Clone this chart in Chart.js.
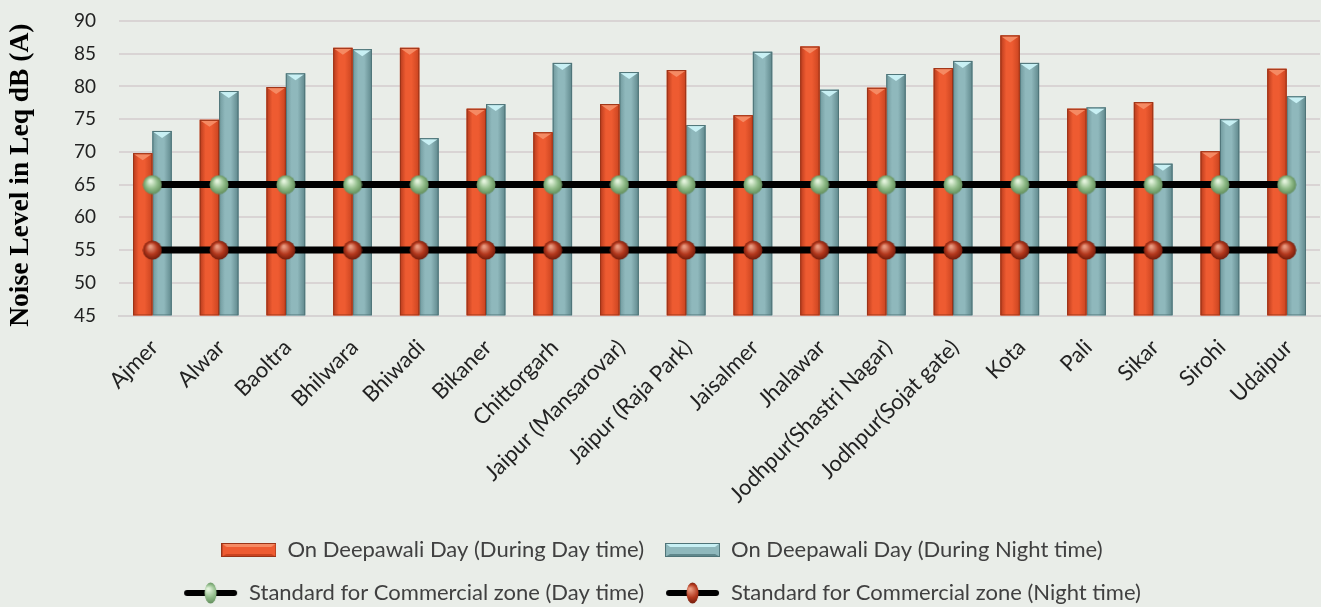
<!DOCTYPE html>
<html>
<head>
<meta charset="utf-8">
<script src="https://cdn.jsdelivr.net/npm/chart.js@4/dist/chart.umd.min.js"></script>
<style>
  html, body { margin: 0; padding: 0; background: #e9ede8; }
  #wrap { width: 1321px; height: 607px; position: relative; }
</style>
</head>
<body>
<div id="wrap"><canvas id="c" width="1321" height="607"></canvas></div>
<script>
// ---- Data ----
const categories = ["Ajmer", "Alwar", "Baoltra", "Bhilwara", "Bhiwadi", "Bikaner", "Chittorgarh",
  "Jaipur (Mansarovar)", "Jaipur (Raja Park)", "Jaisalmer", "Jhalawar", "Jodhpur(Shastri Nagar)",
  "Jodhpur(Sojat gate)", "Kota", "Pali", "Sikar", "Sirohi", "Udaipur"];
const dayValues   = [69.8, 74.9, 79.9, 85.9, 85.9, 76.6, 73.0, 77.3, 82.5, 75.6, 86.1, 79.8, 82.8, 87.8, 76.6, 77.6, 70.1, 82.7];
const nightValues = [73.2, 79.3, 82.0, 85.7, 72.1, 77.3, 83.6, 82.2, 74.1, 85.3, 79.5, 81.9, 83.9, 83.6, 76.8, 68.2, 75.0, 78.5];
const stdDay   = [65, 65, 65, 65, 65, 65, 65, 65, 65, 65, 65, 65, 65, 65, 65, 65, 65, 65];
const stdNight = [55, 55, 55, 55, 55, 55, 55, 55, 55, 55, 55, 55, 55, 55, 55, 55, 55, 55];
const seriesNames = ["On Deepawali Day (During Day time)", "On Deepawali Day (During Night time)",
  "Standard for Commercial zone (Day time)", "Standard for Commercial zone (Night time)"];
const yTitle = "Noise Level in Leq dB (A)";

// ---- Styles ----
const redShade  = ["#b73a1c", "#ee5b31", "#c9431f", "#f58a63", "#9a3418"];
const tealShade = ["#6f989c", "#8fb8bc", "#5f878b", "#c8f0f4", "#4f7478"];

function sphere(light, mid, dark, d) {
  const c = document.createElement('canvas');
  c.width = d; c.height = d;
  const x = c.getContext('2d');
  const g = x.createRadialGradient(d * 0.4, d * 0.32, d * 0.05, d / 2, d / 2, d / 2);
  g.addColorStop(0, light); g.addColorStop(0.55, mid); g.addColorStop(1, dark);
  x.fillStyle = g;
  x.beginPath(); x.arc(d / 2, d / 2, d / 2 - 0.5, 0, Math.PI * 2); x.fill();
  return c;
}
const greenBall = sphere("#e3f3dc", "#8fbb88", "#5e8a58", 20);
const redBall   = sphere("#e99a80", "#b3381d", "#6e1a0a", 20);

function legendBar(sh) {
  const c = document.createElement('canvas');
  c.width = 55; c.height = 14;
  const x = c.getContext('2d');
  x.fillStyle = sh[1]; x.fillRect(0, 0, 55, 14);
  x.fillStyle = sh[3];
  x.beginPath(); x.moveTo(0, 0); x.lineTo(55, 0); x.lineTo(50, 4); x.lineTo(5, 4); x.closePath(); x.fill();
  x.fillStyle = sh[2];
  x.beginPath(); x.moveTo(0, 14); x.lineTo(55, 14); x.lineTo(50, 11); x.lineTo(5, 11); x.closePath(); x.fill();
  x.strokeStyle = sh[4]; x.lineWidth = 1; x.strokeRect(0.5, 0.5, 54, 13);
  return c;
}
function legendLine(light, mid, dark) {
  const c = document.createElement('canvas');
  c.width = 55; c.height = 22;
  const x = c.getContext('2d');
  x.strokeStyle = "#000"; x.lineWidth = 6; x.lineCap = "round";
  x.beginPath(); x.moveTo(4, 11); x.lineTo(51, 11); x.stroke();
  const g = x.createRadialGradient(25, 7, 1, 27.5, 11, 11);
  g.addColorStop(0, light); g.addColorStop(0.55, mid); g.addColorStop(1, dark);
  x.fillStyle = g;
  x.beginPath(); x.ellipse(27.5, 11, 6, 10.5, 0, 0, Math.PI * 2); x.fill();
  return c;
}
const legendImgs = [legendBar(redShade), legendBar(tealShade),
  legendLine("#e3f3dc", "#8fbb88", "#5e8a58"), legendLine("#e99a80", "#b3381d", "#6e1a0a")];

const barShade = {
  id: 'barShade',
  afterDatasetDraw(chart, args) {
    const meta = args.meta;
    if (meta.type !== 'bar') return;
    const sh = args.index === 2 ? redShade : tealShade;
    const ctx = chart.ctx;
    const area = chart.chartArea;
    ctx.save();
    ctx.beginPath(); ctx.rect(area.left, area.top, area.right - area.left, area.bottom - area.top); ctx.clip();
    meta.data.forEach(el => {
      const p = el.getProps(['x', 'y', 'base', 'width'], true);
      const base = Math.min(p.base, area.bottom);
      const l = p.x - p.width / 2, r = p.x + p.width / 2;
      const g = ctx.createLinearGradient(l, 0, r, 0);
      g.addColorStop(0, sh[0]); g.addColorStop(0.3, sh[1]); g.addColorStop(0.6, sh[1]); g.addColorStop(1, sh[2]);
      ctx.fillStyle = g;
      ctx.fillRect(l, p.y, p.width, base - p.y);
      ctx.fillStyle = sh[3];
      ctx.beginPath(); ctx.moveTo(l + 1, p.y + 1); ctx.lineTo(r - 1, p.y + 1); ctx.lineTo(p.x, p.y + 7); ctx.closePath(); ctx.fill();
      ctx.strokeStyle = sh[4]; ctx.lineWidth = 1;
      ctx.strokeRect(l + 0.5, p.y + 0.5, p.width - 1, base - p.y - 1);
    });
    ctx.restore();
  }
};

const bgPlugin = {
  id: 'bg',
  beforeDraw(chart) {
    const ctx = chart.ctx;
    ctx.save(); ctx.fillStyle = "#e9ede8"; ctx.fillRect(0, 0, chart.width, chart.height); ctx.restore();
  }
};

const legendOrder = [2, 3, 0, 1];

new Chart(document.getElementById('c'), {
  data: {
    labels: categories,
    datasets: [
      { type: 'line', label: seriesNames[2], data: stdDay, order: 0, borderColor: "#000", borderWidth: 7,
        pointStyle: greenBall, pointRadius: 10, fill: false },
      { type: 'line', label: seriesNames[3], data: stdNight, order: 0, borderColor: "#000", borderWidth: 7,
        pointStyle: redBall, pointRadius: 10, fill: false },
      { type: 'bar', label: seriesNames[0], data: dayValues, order: 1, backgroundColor: redShade[1],
        barPercentage: 1, categoryPercentage: 0.58 },
      { type: 'bar', label: seriesNames[1], data: nightValues, order: 1, backgroundColor: tealShade[1],
        barPercentage: 1, categoryPercentage: 0.58 }
    ]
  },
  options: {
    responsive: false,
    animation: false,
    layout: { autoPadding: false, padding: { left: 4, right: 1, top: 21, bottom: -7 } },
    plugins: {
      tooltip: { enabled: false },
      legend: {
        position: 'bottom',
        labels: {
          usePointStyle: true,
          pointStyleWidth: 55,
          padding: 21,
          color: "#404040",
          font: { family: "Lato", size: 22 },
          sort: (a, b) => legendOrder[a.datasetIndex] - legendOrder[b.datasetIndex],
          generateLabels(chart) {
            const items = Chart.defaults.plugins.legend.labels.generateLabels(chart);
            items.forEach(it => { it.pointStyle = legendImgs[legendOrder[it.datasetIndex]]; });
            return items;
          }
        }
      }
    },
    scales: {
      x: {
        grid: { display: false, drawTicks: false },
        border: { color: "#d6d3d3", width: 2 },
        afterFit(scale) { scale.paddingRight = 0; scale.height -= 9; },
        ticks: { maxRotation: 45, minRotation: 45, autoSkip: false, color: "#222", padding: 19, labelOffset: 2,
          font: { family: "Lato", size: 22 } }
      },
      y: {
        min: 45, max: 90,
        grid: { color: "#d9d4d4", lineWidth: 2, drawTicks: false },
        border: { display: false },
        afterFit(scale) { scale.paddingTop = 0; scale.paddingBottom = 0; },
        ticks: { stepSize: 5, color: "#222", padding: 23, font: { family: "Lato", size: 19 } },
        title: { display: true, text: yTitle + "  ", color: "#000", padding: { top: 0, bottom: 14 },
          font: { family: "Liberation Serif", size: 27.5, weight: 'bold' } }
      }
    }
  },
  plugins: [bgPlugin, barShade]
});
</script>
</body>
</html>
